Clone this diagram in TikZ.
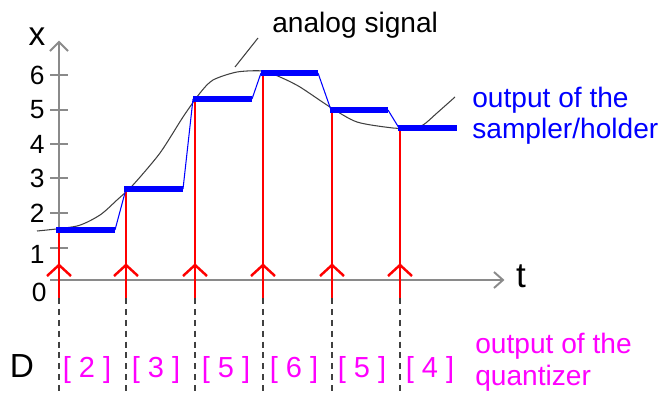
\documentclass[tikz,border=0pt]{standalone}
\usepackage{fontspec}
\setmainfont{Liberation Sans}
\definecolor{axisgray}{HTML}{8A8A8A}
\definecolor{curvegray}{HTML}{404040}
\definecolor{dashgray}{HTML}{404040}
\definecolor{sampred}{HTML}{FF0000}
\definecolor{holdblue}{HTML}{0000FF}
\definecolor{quantmag}{HTML}{FF00FF}
\begin{document}
\begin{tikzpicture}[x=0.02cm,y=-0.02cm,
  axisline/.style={draw=axisgray,line width=1.1pt},
  tickline/.style={draw=axisgray,line width=0.8pt},
  analogline/.style={draw=curvegray,line width=0.6pt},
  sampleline/.style={draw=sampred,line width=1.4pt},
  holdbar/.style={draw=holdblue,line width=3.4pt},
  holdlink/.style={draw=holdblue,line width=0.6pt},
  dropline/.style={draw=dashgray,line width=0.8pt,dash pattern=on 3.4pt off 2.8pt},
  numlabel/.style={inner sep=0pt,font=\fontsize{15}{17}\selectfont},
  codelabel/.style={inner sep=0pt,text=quantmag,font=\fontsize{16.5}{18}\selectfont},
  bluetext/.style={inner sep=0pt,text=holdblue,font=\fontsize{16}{18}\selectfont},
  magtext/.style={inner sep=0pt,text=quantmag,font=\fontsize{16}{18}\selectfont},
  blacktext/.style={inner sep=0pt,font=\fontsize{16}{18}\selectfont}]
\useasboundingbox (0,0) rectangle (662,392);

% analog signal
\draw[analogline] plot[smooth,tension=0.45] coordinates {(37,231) (77,226) (100,215) (117,200) (133,185) (160,153) (183,117) (200,93) (213,80) (237,72) (263,71) (280,77) (300,87) (330,107) (357,122) (393,128) (410,128) (423,125) (437,113) (455,97)};

% axes
\draw[axisline] (59,282) -- (59,42);
\draw[axisline] (50,51) -- (59,42) -- (68,51);
\draw[axisline] (50,280) -- (503,280);
\draw[axisline] (494,272) -- (503,280) -- (494,288);
\foreach \ty in {75,110,144,178,213,248} \draw[tickline] (50,\ty) -- (68,\ty);

% axis labels
\node[numlabel,anchor=east] (l6) at (45,75) {6};
\node[numlabel,anchor=east] (l5) at (45,110) {5};
\node[numlabel,anchor=east] (l4) at (45,144) {4};
\node[numlabel,anchor=east] (l3) at (45,178) {3};
\node[numlabel,anchor=east] (l2) at (45,213) {2};
\node[numlabel,anchor=east] (l1) at (45,254) {1};
\node[numlabel,anchor=east] (l0) at (47,292) {0};
\node[inner sep=0pt,font=\fontsize{19}{21}\selectfont] (xlab) at (37,37) {x};
\node[inner sep=0pt,font=\fontsize{20}{22}\selectfont] (tlab) at (521,276) {t};
\node[inner sep=0pt,font=\fontsize{19}{21}\selectfont] (dlab) at (22,366) {D};

% dashed drop lines
\foreach \sx in {59,126,195,263,332,400} \draw[dropline] (\sx,298) -- (\sx,392);

% sample lines with arrow marks
\foreach \sx/\sy in {59/230,126/189,195/99,263/73,332/110,400/128} {
  \draw[sampleline] (\sx,298) -- (\sx,\sy);
  \draw[sampleline] (\sx-12,276) -- (\sx,265) -- (\sx+12,276);
}

% holder links and bars
\draw[holdlink] (115,230) -- (126,189);
\draw[holdlink] (183,189) -- (193,99);
\draw[holdlink] (252,99) -- (261,73);
\draw[holdlink] (318,73) -- (331,110);
\draw[holdlink] (388,110) -- (399,128);
\draw[holdbar] (56,230) -- (115,230);
\draw[holdbar] (124,189) -- (183,189);
\draw[holdbar] (193,99) -- (252,99);
\draw[holdbar] (261,73) -- (318,73);
\draw[holdbar] (330,110) -- (388,110);
\draw[holdbar] (398,128) -- (457,128);

% quantizer codes
\node[codelabel] (c1) at (87,370) {[ 2 ]};
\node[codelabel] (c2) at (156,370) {[ 3 ]};
\node[codelabel] (c3) at (226,370) {[ 5 ]};
\node[codelabel] (c4) at (294,370) {[ 6 ]};
\node[codelabel] (c5) at (362,370) {[ 5 ]};
\node[codelabel] (c6) at (430,370) {[ 4 ]};

% texts
\node[blacktext,anchor=base west] (an) at (272,32) {analog signal};
\coordinate (anfoot) at (235,67);
\draw[analogline] (anfoot) -- (258,38);
\node[bluetext,anchor=base west] (b1) at (472,107) {output of the};
\node[bluetext,anchor=base west] (b2) at (472,138) {sampler/holder};
\node[magtext,anchor=base west] (m1) at (475,353) {output of the};
\node[magtext,anchor=base west] (m2) at (475,385) {quantizer};
\end{tikzpicture}
\end{document}
